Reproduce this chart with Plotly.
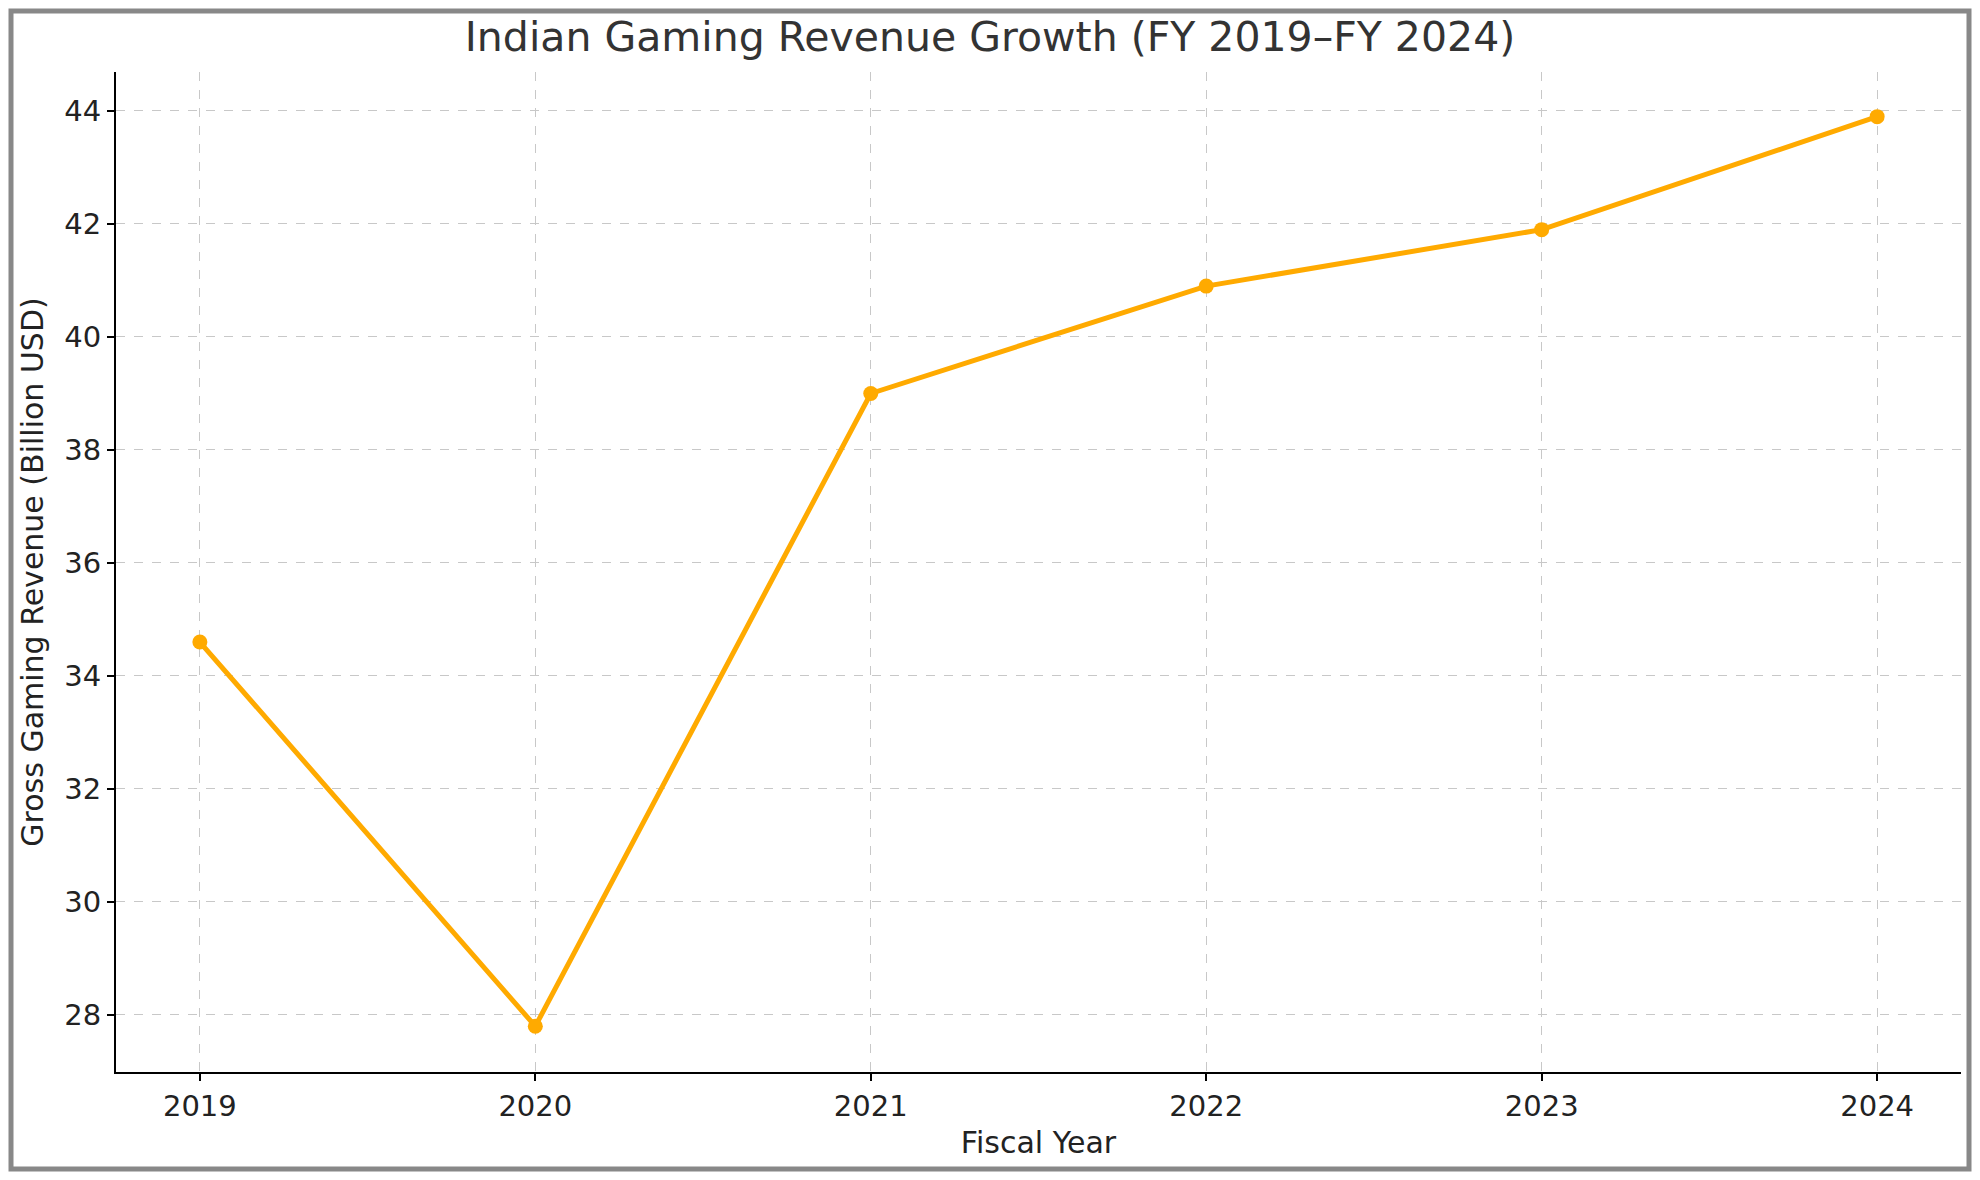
import plotly.graph_objects as go

years = [2019, 2020, 2021, 2022, 2023, 2024]
revenue = [34.6, 27.8, 39.0, 40.9, 41.9, 43.9]
y_ticks = [28, 30, 32, 34, 36, 38, 40, 42, 44]

fig = go.Figure(go.Scatter(
    x=years, y=revenue, mode="lines+markers",
    line=dict(color="#FFAA00", width=5),
    marker=dict(color="#FFAA00", size=15),
))

axis_common = dict(
    showline=True, linecolor="black", linewidth=2, mirror=False,
    ticks="outside", ticklen=7, tickwidth=1.5, tickcolor="black",
    showgrid=True, gridcolor="#c8c8c8", gridwidth=1, griddash="dash",
    zeroline=False, tickfont=dict(size=29, color="#222"),
)

W, H = 1964, 1164
L, R, T, B = 108, 11, 64, 100
pw, ph = W - L - R, H - T - B

fig.update_layout(
    width=W, height=H,
    paper_bgcolor="white", plot_bgcolor="white",
    font=dict(family="DejaVu Sans", color="#222"),
    margin=dict(l=L, r=R, t=T, b=B),
    title=dict(text="Indian Gaming Revenue Growth (FY 2019\u2013FY 2024)",
               x=0.5, xanchor="center", y=0.975, yanchor="middle",
               font=dict(size=41, color="#333")),
    xaxis=dict(axis_common, range=[2018.75, 2024.25], tickvals=years,
               title=dict(text="Fiscal Year", font=dict(size=30), standoff=10)),
    yaxis=dict(axis_common, range=[26.99, 44.69], tickvals=y_ticks,
               title=dict(text="Gross Gaming Revenue (Billion USD)", font=dict(size=30), standoff=12)),
    showlegend=False,
    shapes=[dict(type="rect", xref="paper", yref="paper",
                 x0=(-L + 3) / pw, x1=(pw + R - 3) / pw,
                 y0=(-B + 3) / ph, y1=1 + (T - 3) / ph,
                 line=dict(color="#888888", width=5))],
)

fig.write_html("out.html")
